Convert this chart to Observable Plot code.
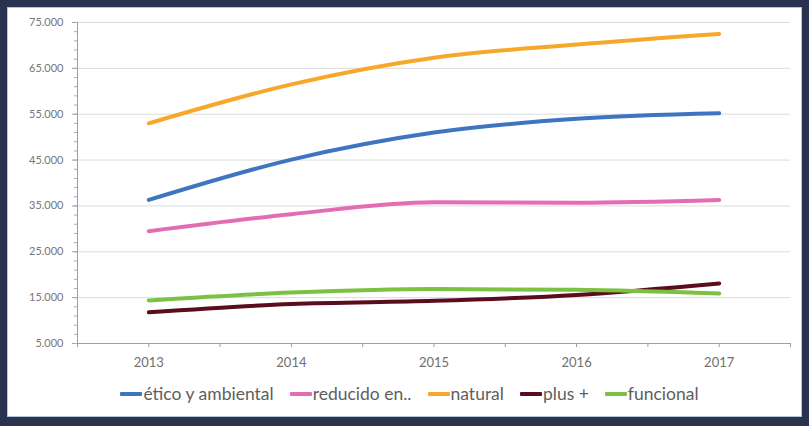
<!DOCTYPE html>
<html>
<head>
<meta charset="utf-8">
<script src="https://cdn.jsdelivr.net/npm/d3@7"></script>
<script src="https://cdn.jsdelivr.net/npm/@observablehq/plot@0.6"></script>
<style>
  html, body { margin: 0; padding: 0; }
  body { width: 809px; height: 426px; background: #29334f; position: relative; overflow: hidden; font-family: Lato, "Open Sans", sans-serif; }
  #frame { position: absolute; left: 7px; top: 7px; width: 795px; height: 410px; box-sizing: border-box; border: 1px solid #b8c6da; background: #ffffff; }
  #chart { position: absolute; left: 0; top: 0; }
  #legend { position: absolute; left: 0; top: 376px; width: 793px; display: flex; justify-content: center; gap: 16px; font-size: 17.5px; color: #5e5e5e; line-height: 20px; padding-left: 10px; box-sizing: border-box; }
  .item { display: flex; align-items: center; }
  .sw { display: inline-block; width: 22px; height: 4px; margin-right: 1px; border-radius: 1px; }
</style>
</head>
<body>
<div id="frame">
  <div id="chart"></div>
  <div id="legend"></div>
</div>
<script>
const years = [2013, 2014, 2015, 2016, 2017];
const seriesNames = ["ético y ambiental", "reducido en..", "natural", "plus +", "funcional"];
const seriesColors = ["#3f74c0", "#e36db5", "#f7a82a", "#5a0d1c", "#7cc242"];
const eticoAmbiental = [36300, 45100, 51000, 54000, 55200];
const reducidoEn = [29500, 33200, 35800, 35700, 36300];
const natural = [53000, 61500, 67300, 70200, 72500];
const plus = [11800, 13600, 14300, 15600, 18100];
const funcional = [14400, 16100, 16900, 16700, 15900];
const yTicks = [5000, 15000, 25000, 35000, 45000, 55000, 65000, 75000];

const values = [eticoAmbiental, reducidoEn, natural, plus, funcional];
const data = [];
seriesNames.forEach((name, i) => {
  years.forEach((yr, j) => data.push({serie: name, year: yr, value: values[i][j]}));
});

const fmt = d => d3.format(",")(d).replace(/,/g, ".");
const xMin = years[0] - 0.5, xMax = years[years.length - 1] + 0.5;
const xTickMarks = d3.range(xMin, xMax + 0.01, 0.5);
const yMinor = d3.range(yTicks[0], yTicks[yTicks.length - 1] + 1, 2000);

const plot = Plot.plot({
  width: 793,
  height: 372,
  marginLeft: 69,
  marginRight: 11,
  marginTop: 14,
  marginBottom: 37,
  style: {fontFamily: "Lato, 'Open Sans', sans-serif", background: "transparent"},
  x: {domain: [xMin, xMax]},
  y: {domain: [yTicks[0], yTicks[yTicks.length - 1]]},
  color: {domain: seriesNames, range: seriesColors},
  marks: [
    Plot.gridY(yTicks.slice(1), {stroke: "#dcdcdc", strokeOpacity: 1, strokeWidth: 1}),
    Plot.axisY({ticks: yTicks, tickFormat: fmt, tickSize: 5, tickPadding: 9, fontSize: 11, color: "#777777", stroke: "#8ea0c0", label: null}),
    Plot.axisY({ticks: yMinor, tickSize: 3, tickFormat: () => "", stroke: "#9fb0cc", label: null}),
    Plot.axisX({ticks: xTickMarks, tickSize: 4, tickFormat: () => "", stroke: "#8ea0c0", label: null}),
    Plot.axisX({ticks: years, tickSize: 0, tickPadding: 14, tickFormat: d => String(d), fontSize: 13, color: "#707070", label: null}),
    Plot.ruleX([xMin], {stroke: "#8ea0c0"}),
    Plot.ruleY([yTicks[0]], {stroke: "#8ea0c0"}),
    Plot.line(data, {x: "year", y: "value", z: "serie", stroke: "serie", strokeWidth: 4, curve: "monotone-x", strokeLinecap: "round"})
  ]
});
document.getElementById("chart").appendChild(plot);

const legend = document.getElementById("legend");
seriesNames.forEach((name, i) => {
  const it = document.createElement("span");
  it.className = "item";
  const sw = document.createElement("span");
  sw.className = "sw";
  sw.style.background = seriesColors[i];
  it.appendChild(sw);
  it.appendChild(document.createTextNode(name));
  legend.appendChild(it);
});
</script>
</body>
</html>
